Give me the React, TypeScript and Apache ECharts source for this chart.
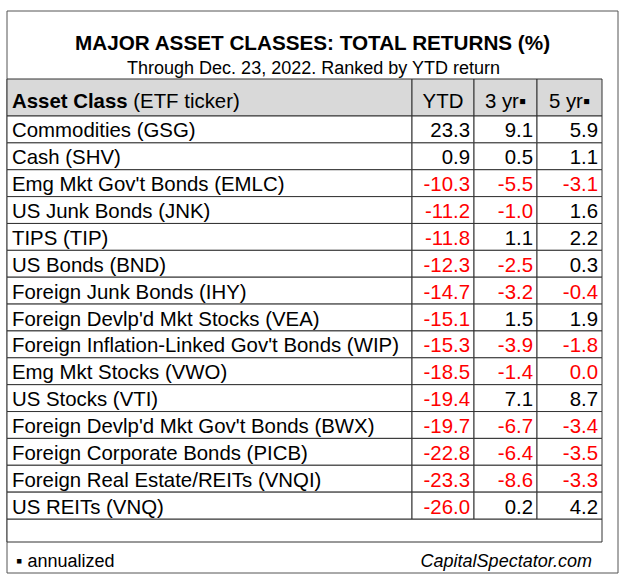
import React, { useEffect, useRef } from "react";
import * as echarts from "echarts";

const title = "MAJOR ASSET CLASSES: TOTAL RETURNS (%)";
const subtitle = "Through Dec. 23, 2022. Ranked by YTD return";
const headerBold = "Asset Class";
const headerNormal = " (ETF ticker)";
const valueHeaders = ["YTD", "3 yr\u25AA", "5 yr\u25AA"];
const footnote = "\u25AA annualized";
const source = "CapitalSpectator.com";

const assetClasses = [
  "Commodities (GSG)",
  "Cash (SHV)",
  "Emg Mkt Gov't Bonds (EMLC)",
  "US Junk Bonds (JNK)",
  "TIPS (TIP)",
  "US Bonds (BND)",
  "Foreign Junk Bonds (IHY)",
  "Foreign Devlp'd Mkt Stocks (VEA)",
  "Foreign Inflation-Linked Gov't Bonds (WIP)",
  "Emg Mkt Stocks (VWO)",
  "US Stocks (VTI)",
  "Foreign Devlp'd Mkt Gov't Bonds (BWX)",
  "Foreign Corporate Bonds (PICB)",
  "Foreign Real Estate/REITs (VNQI)",
  "US REITs (VNQ)",
];
const ytd = [23.3, 0.9, -10.3, -11.2, -11.8, -12.3, -14.7, -15.1, -15.3, -18.5, -19.4, -19.7, -22.8, -23.3, -26.0];
const yr3 = [9.1, 0.5, -5.5, -1.0, 1.1, -2.5, -3.2, 1.5, -3.9, -1.4, 7.1, -6.7, -6.4, -8.6, 0.2];
const yr5 = [5.9, 1.1, -3.1, 1.6, 2.2, 0.3, -0.4, 1.9, -1.8, -0.0, 8.7, -3.4, -3.5, -3.3, 4.2];
const valueColumns = [ytd, yr3, yr5];

// layout (pixels)
const FONT = "'Liberation Sans', Arial, sans-serif";
const BODY_FONT = 20.4;
const TABLE_LEFT = 7;
const TABLE_WIDTH = 595;
const colEdges = [0, 405, 467, 530, 595];
const HEADER_TOP = 79;
const HEADER_H = 37;
const BODY_TOP = 116;
const BODY_H = 403;
const LINE = "#333";

const isNeg = (v: number) => v < 0 || Object.is(v, -0);

export default function App() {
  const ref = useRef<HTMLDivElement>(null);
  useEffect(() => {
    if (!ref.current) return;
    const chart = echarts.init(ref.current, undefined, { renderer: "svg" });

    const headerCells: any[] = [];
    for (let i = 0; i < 4; i++) {
      headerCells.push({
        type: "rect",
        shape: {
          x: TABLE_LEFT + colEdges[i],
          y: HEADER_TOP,
          width: colEdges[i + 1] - colEdges[i],
          height: HEADER_H,
        },
        style: { fill: "#d9d9d9", stroke: LINE, lineWidth: 1 },
        z: 2,
      });
    }
    const headerTexts: any[] = [
      {
        type: "text",
        x: TABLE_LEFT + 5,
        y: HEADER_TOP + HEADER_H / 2 + 3,
        style: {
          text: `{b|${headerBold}}{n|${headerNormal}}`,
          verticalAlign: "middle",
          align: "left",
          rich: {
            b: { font: `bold ${BODY_FONT}px ${FONT}`, fill: "#000" },
            n: { font: `${BODY_FONT}px ${FONT}`, fill: "#000" },
          },
        },
        z: 3,
      },
      ...valueHeaders.map((h, i) => ({
        type: "text",
        x: TABLE_LEFT + (colEdges[i + 1] + colEdges[i + 2]) / 2,
        y: HEADER_TOP + HEADER_H / 2 + 3,
        style: {
          text: h,
          font: `${BODY_FONT}px ${FONT}`,
          fill: "#000",
          align: "center",
          verticalAlign: "middle",
        },
        z: 3,
      })),
    ];

    const option: any = {
      animation: false,
      backgroundColor: "#fff",
      grid: { left: TABLE_LEFT, top: BODY_TOP, width: TABLE_WIDTH, height: BODY_H, containLabel: false },
      xAxis: { type: "value", min: 0, max: TABLE_WIDTH, show: false },
      yAxis: { type: "category", data: assetClasses, inverse: true, show: false },
      graphic: [
        {
          type: "rect",
          shape: { x: 7, y: 11, width: 611, height: 562 },
          style: { fill: "none", stroke: "#555", lineWidth: 1 },
          z: 1,
        },
        {
          type: "text",
          x: 312.5,
          y: 42,
          style: {
            text: title,
            font: `bold 20.7px ${FONT}`,
            fill: "#000",
            align: "center",
            verticalAlign: "middle",
          },
        },
        {
          type: "text",
          x: 313.5,
          y: 68,
          style: {
            text: subtitle,
            font: `18px ${FONT}`,
            fill: "#000",
            align: "center",
            verticalAlign: "middle",
          },
        },
        ...headerCells,
        ...headerTexts,
        {
          type: "rect",
          shape: { x: TABLE_LEFT, y: BODY_TOP + BODY_H, width: TABLE_WIDTH, height: 23 },
          style: { fill: "#fff", stroke: LINE, lineWidth: 1 },
          z: 2,
        },
        {
          type: "text",
          x: 16,
          y: 561,
          style: { text: footnote, font: `18px ${FONT}`, fill: "#000", align: "left", verticalAlign: "middle" },
        },
        {
          type: "text",
          x: 592,
          y: 561,
          style: {
            text: source,
            font: `italic 18px ${FONT}`,
            fill: "#000",
            align: "right",
            verticalAlign: "middle",
          },
        },
      ],
      series: [
        {
          type: "custom",
          data: assetClasses.map((_, i) => [0, i]),
          renderItem: (params: any, api: any) => {
            const row = api.value(1) as number;
            const c = api.coord([0, row]);
            const h = api.size([0, 1])[1];
            const unit = api.size([1, 0])[0];
            const left = c[0];
            const top = c[1] - h / 2;
            const children: any[] = [];
            for (let i = 0; i < 4; i++) {
              children.push({
                type: "rect",
                shape: {
                  x: left + colEdges[i] * unit,
                  y: top,
                  width: (colEdges[i + 1] - colEdges[i]) * unit,
                  height: h,
                },
                style: { fill: "#fff", stroke: LINE, lineWidth: 1 },
              });
            }
            children.push({
              type: "text",
              x: left + 5,
              y: c[1] + 1,
              style: {
                text: assetClasses[row],
                font: `${BODY_FONT}px ${FONT}`,
                fill: "#000",
                align: "left",
                verticalAlign: "middle",
              },
            });
            valueColumns.forEach((col, j) => {
              const v = col[row];
              children.push({
                type: "text",
                x: left + colEdges[j + 2] * unit - 4,
                y: c[1] + 1,
                style: {
                  text: v.toFixed(1),
                  font: `${BODY_FONT}px ${FONT}`,
                  fill: isNeg(v) ? "#ff0000" : "#000",
                  align: "right",
                  verticalAlign: "middle",
                },
              });
            });
            return { type: "group", children };
          },
        },
      ],
    };
    chart.setOption(option);
    return () => chart.dispose();
  }, []);
  return (
    <div
      ref={ref}
      style={{ position: "fixed", left: 0, top: 0, width: 627, height: 579, background: "#fff" }}
    />
  );
}
